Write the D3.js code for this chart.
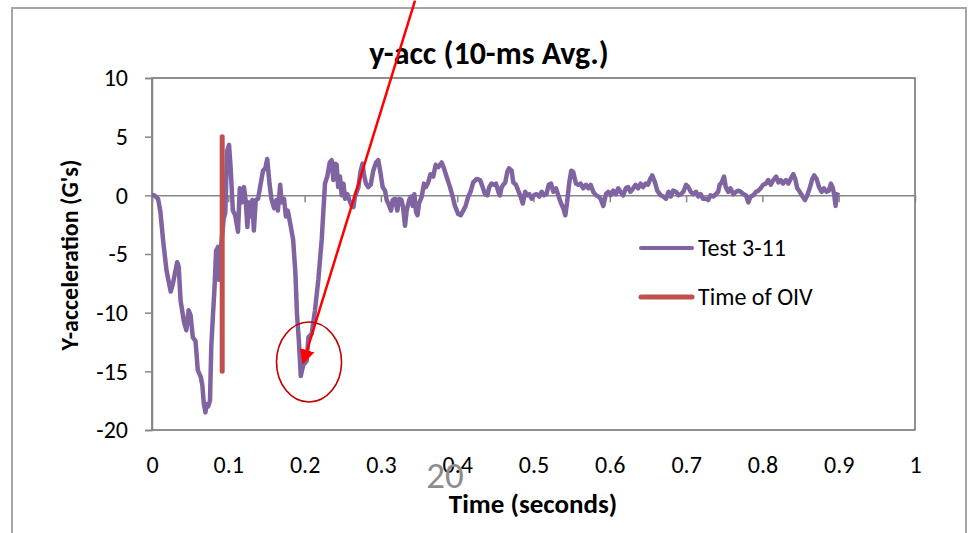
<!DOCTYPE html>
<html>
<head>
<meta charset="utf-8">
<script src="https://cdn.jsdelivr.net/npm/d3@7"></script>
<style>
  body { margin: 0; background: #fff; }
  svg { display: block; }
  text { font-family: Carlito, Calibri, "Liberation Sans Narrow", "Liberation Sans", sans-serif; }
</style>
</head>
<body>
<div id="chart"></div>
<script>
// time (s) and y-acceleration (G's)
const times = [
  0.000, 0.003, 0.008, 0.011, 0.0145, 0.019, 0.0245, 0.0275, 0.0305, 0.033,
  0.035, 0.0375, 0.042, 0.045, 0.048, 0.0505, 0.0535, 0.057, 0.060, 0.064,
  0.066, 0.068, 0.070, 0.0715, 0.0735, 0.076, 0.0777, 0.080, 0.082, 0.084,
  0.0865, 0.0875, 0.091, 0.094, 0.096, 0.0985, 0.101, 0.103, 0.106, 0.109,
  0.1127, 0.115, 0.118, 0.1205, 0.123, 0.125, 0.127, 0.129, 0.1315, 0.1335,
  0.136, 0.139, 0.1425, 0.1455, 0.1485, 0.151, 0.154, 0.1565, 0.160, 0.163,
  0.165, 0.168, 0.170, 0.173, 0.1755, 0.178, 0.182, 0.185, 0.188, 0.190,
  0.1925, 0.195, 0.198, 0.2027, 0.205, 0.2093, 0.2136, 0.218, 0.2224, 0.2267,
  0.2297, 0.233, 0.2355, 0.2377, 0.240, 0.242, 0.244, 0.2464, 0.2486, 0.251,
  0.253, 0.256, 0.2586, 0.2617, 0.264, 0.266, 0.2705, 0.2735, 0.276, 0.2777,
  0.2804, 0.2835, 0.2866, 0.290, 0.2936, 0.2966, 0.299, 0.3023, 0.3054, 0.3076,
  0.311, 0.3132, 0.3155, 0.3185, 0.3215, 0.324, 0.327, 0.329, 0.3316, 0.3338,
  0.337, 0.3395, 0.3417, 0.3438, 0.346, 0.348, 0.350, 0.3535, 0.3565, 0.359,
  0.362, 0.365, 0.3686, 0.3718, 0.3752, 0.3797, 0.3827, 0.386, 0.3906, 0.394,
  0.397, 0.4014, 0.4045, 0.408, 0.411, 0.4145, 0.4175, 0.421, 0.4256, 0.430,
  0.4334, 0.4364, 0.4395, 0.442, 0.445, 0.448, 0.4508, 0.454, 0.456, 0.4583,
  0.4604, 0.463, 0.4657, 0.468, 0.4714, 0.4735, 0.477, 0.480, 0.483, 0.486,
  0.489, 0.492, 0.4945, 0.4976, 0.5007, 0.504, 0.5076, 0.5107, 0.5138, 0.517,
  0.520, 0.523, 0.526, 0.5295, 0.5325, 0.5356, 0.539, 0.5417, 0.544, 0.5469,
  0.5495, 0.552, 0.5556, 0.5587, 0.5618, 0.565, 0.5688, 0.5718, 0.575, 0.5783,
  0.582, 0.585, 0.588, 0.5914, 0.595, 0.598, 0.601, 0.6045, 0.608, 0.611,
  0.614, 0.6175, 0.621, 0.624, 0.627, 0.6306, 0.6338, 0.637, 0.6404, 0.6436,
  0.647, 0.650, 0.653, 0.6556, 0.6592, 0.6622, 0.6667, 0.670, 0.6737, 0.677,
  0.680, 0.683, 0.6868, 0.690, 0.693, 0.6963, 0.700, 0.703, 0.706, 0.7094,
  0.713, 0.716, 0.719, 0.7223, 0.726, 0.729, 0.732, 0.7356, 0.739, 0.742,
  0.744, 0.7467, 0.7497, 0.752, 0.7553, 0.758, 0.762, 0.7654, 0.7684, 0.7715,
  0.775, 0.7785, 0.7815, 0.7846, 0.788, 0.7916, 0.7946, 0.7977, 0.801, 0.8047,
  0.8077, 0.811, 0.8143, 0.818, 0.821, 0.824, 0.827, 0.831, 0.834, 0.837,
  0.8405, 0.843, 0.8457, 0.849, 0.8527, 0.8558, 0.8588, 0.8624, 0.8654, 0.868,
  0.871, 0.8742, 0.8777, 0.8807, 0.884, 0.887, 0.8898, 0.892, 0.894, 0.896,
  0.8975, 0.9006
];
const yAcc = [
  0.0, 0.0, -0.3, -1.4, -3.8, -6.4, -8.2, -7.5, -6.5, -5.7,
  -6.1, -9.0, -10.8, -11.5, -9.8, -10.2, -12.1, -12.4, -14.9, -15.5,
  -16.2, -17.8, -18.5, -17.8, -18.0, -17.5, -12.9, -10.1, -7.8, -4.7,
  -4.4, -7.2, -4.0, -2.0, -1.5, 3.8, 4.3, 2.4, -1.3, -1.7,
  -3.1, 0.6, -0.6, 0.7, -0.6, -2.7, -0.6, -1.8, -0.4, -3.0,
  -0.4, -0.3, 1.0, 2.1, 2.3, 3.1, 1.0, -0.3, -1.1, -0.4,
  -1.3, 0.9, -0.6, -0.3, -1.8, -1.3, -2.7, -3.8, -6.7, -10.1,
  -12.4, -15.4, -14.5, -14.1, -12.1, -11.8, -9.8, -7.2, -3.8, 1.0,
  1.6, 2.8, 3.0, 1.3, 2.7, 2.6, 0.7, 1.6, 0.0, 1.0,
  -0.3, 0.1, -0.4, -0.9, -1.0, -0.1, 0.7, 2.1, 2.7, 1.8,
  1.0, 0.7, 0.9, 2.1, 2.8, 3.0, 2.1, 0.7, 0.4, -0.4,
  -0.9, -1.3, -0.4, -0.3, -1.3, -0.3, -0.4, -1.0, -2.6, -1.3,
  -0.4, -0.1, -0.9, 0.1, -1.4, -1.7, -0.7, -0.1, 1.0, 0.7,
  1.1, 1.8, 1.6, 2.6, 2.4, 2.8, 2.3, 1.6, 0.7, -0.1,
  -0.9, -1.6, -1.7, -1.3, -0.9, -0.1, 0.3, 1.1, 1.4, 1.3,
  0.7, 0.1, 0.0, 0.7, 1.0, 0.9, 1.0, 0.3, 0.0, 0.7,
  0.9, 1.1, 2.0, 2.3, 2.1, 1.1, 0.9, 0.4, -0.1, -0.7,
  0.3, 0.0, 0.1, -0.3, 0.0, 0.1, -0.1, 0.3, 0.0, 0.1,
  0.9, 1.0, 0.3, 0.6, 0.0, -0.6, -1.1, -1.7, -0.6, 1.1,
  2.1, 2.0, 1.0, 0.9, 1.0, 0.6, 0.9, 0.6, 0.9, 0.3,
  0.0, -0.1, -0.3, -0.9, 0.1, 0.3, 0.0, 0.4, 0.1, 0.6,
  0.3, 0.0, 0.6, 0.7, 0.3, 0.6, 0.9, 0.6, 1.0, 0.7,
  1.0, 0.9, 1.4, 1.7, 1.1, 0.4, 0.0, -0.1, -0.3, 0.3,
  -0.1, 0.4, 0.3, 0.0, 0.1, 0.3, 0.9, 0.7, 0.3, 0.1,
  0.3, -0.1, 0.1, -0.3, -0.3, -0.4, 0.0, -0.1, 0.1, 0.3,
  0.9, 1.1, 1.6, 0.7, 0.3, 0.6, 0.1, 0.3, 0.4, 0.3,
  0.1, 0.0, -0.6, -0.1, 0.0, 0.3, 0.4, 0.6, 0.9, 1.0,
  1.3, 0.9, 1.3, 1.6, 1.1, 1.3, 1.0, 1.3, 1.0, 1.4,
  1.8, 1.4, 0.6, 0.3, -0.1, -0.4, 0.0, 0.7, 1.4, 1.7,
  1.4, 0.7, 0.3, 0.6, 0.3, 0.4, 1.0, 0.7, 0.1, -0.9,
  0.1, 0.0
];
// Time of OIV marker
const oivTime = [0.092, 0.092];
const oivAcc = [5, -15];

const xTicks = [0, 0.1, 0.2, 0.3, 0.4, 0.5, 0.6, 0.7, 0.8, 0.9, 1];
const yTicks = [-20, -15, -10, -5, 0, 5, 10];
const seriesNames = ["Test 3-11", "Time of OIV"];

const purple = "#8064A2", brick = "#C0504D", axisGray = "#868686";

let width = 973, height = 533;
let svg = d3.select("#chart").append("svg")
    .attr("width", width)
    .attr("height", height);

let x = d3.scaleLinear().domain([0, 1]).range([152, 915]);
let y = d3.scaleLinear().domain([-20, 10]).range([430, 78]);

// outer chart frame
svg.append("path")
    .attr("d", "M12,540 L12,8 L966,8 L966,540")
    .attr("fill", "none")
    .attr("stroke", "#a6a6a6")
    .attr("stroke-width", 2);

// plot area border
svg.append("rect")
    .attr("x", x(0)).attr("y", y(10))
    .attr("width", x(1) - x(0)).attr("height", y(-20) - y(10))
    .attr("fill", "none")
    .attr("stroke", "#6b6b6b")
    .attr("stroke-width", 1.5);

// y axis
let yAxis = svg.append("g")
    .attr("transform", `translate(${x(0)},0)`)
    .call(d3.axisLeft(y).tickValues(yTicks).tickSize(7).tickPadding(17).tickFormat(d => String(d)));
yAxis.select(".domain").attr("stroke", axisGray).attr("stroke-width", 1.5);
yAxis.selectAll(".tick line").attr("stroke", axisGray).attr("stroke-width", 1.5);
yAxis.selectAll(".tick text")
    .attr("font-size", 24)
    .attr("fill", "#000")
    .attr("font-family", null);

// x axis sits on y = 0, labels at the bottom of the plot
let xAxis = svg.append("g")
    .attr("transform", `translate(0,${y(0)})`)
    .call(d3.axisBottom(x).tickValues(xTicks).tickSize(7).tickSizeOuter(0).tickFormat(d => String(d)));
xAxis.select(".domain").attr("stroke", axisGray).attr("stroke-width", 1.5);
xAxis.selectAll(".tick line").attr("stroke", axisGray).attr("stroke-width", 1.5);
xAxis.selectAll(".tick text")
    .attr("font-size", 24)
    .attr("fill", "#000")
    .attr("font-family", null)
    .attr("dy", null)
    .attr("y", y(-20) - y(0) + 43);

// page number overlay
svg.append("text")
    .attr("x", 445).attr("y", 488)
    .attr("text-anchor", "middle")
    .attr("font-size", 37)
    .attr("fill", "#8c8c8c")
    .text("20");

// series
let line = d3.line()
    .x((d, i) => x(times[i]))
    .y(d => y(d));

svg.append("path")
    .datum(yAcc)
    .attr("d", line)
    .attr("fill", "none")
    .attr("stroke", purple)
    .attr("stroke-width", 4.5)
    .attr("stroke-linejoin", "round");

svg.append("line")
    .attr("x1", x(oivTime[0])).attr("y1", y(oivAcc[0]))
    .attr("x2", x(oivTime[1])).attr("y2", y(oivAcc[1]))
    .attr("stroke", brick)
    .attr("stroke-width", 5)
    .attr("stroke-linecap", "round");

// titles
svg.append("text")
    .attr("x", 489).attr("y", 64)
    .attr("text-anchor", "middle")
    .attr("font-size", 32)
    .attr("font-weight", "bold")
    .text("y-acc (10-ms Avg.)");

svg.append("text")
    .attr("x", 533).attr("y", 513)
    .attr("text-anchor", "middle")
    .attr("font-size", 27)
    .attr("font-weight", "bold")
    .text("Time (seconds)");

svg.append("text")
    .attr("transform", "translate(78,255) rotate(-90)")
    .attr("text-anchor", "middle")
    .attr("font-size", 24)
    .attr("font-weight", "bold")
    .text("Y-acceleration (G's)");

// legend
let legend = svg.append("g");
[purple, brick].forEach((c, i) => {
    let ly = 248 + i * 49;
    legend.append("line")
        .attr("x1", 641).attr("x2", 692)
        .attr("y1", ly).attr("y2", ly)
        .attr("stroke", c)
        .attr("stroke-width", i === 0 ? 4 : 5)
        .attr("stroke-linecap", "round");
    legend.append("text")
        .attr("x", 698).attr("y", ly + 8)
        .attr("font-size", 24)
        .text(seriesNames[i]);
});

// annotation: circle around the second trough and arrow pointing into it
let defs = svg.append("defs");
defs.append("marker")
    .attr("id", "arrow")
    .attr("viewBox", "0 0 10 10")
    .attr("refX", 9).attr("refY", 5)
    .attr("markerWidth", 6).attr("markerHeight", 6)
    .attr("markerUnits", "strokeWidth")
    .attr("orient", "auto")
    .append("path")
    .attr("d", "M0,0 L10,5 L0,10 z")
    .attr("fill", "#ff0000");

svg.append("ellipse")
    .attr("cx", x(0.2058)).attr("cy", y(-14.2))
    .attr("rx", 32.5).attr("ry", 40)
    .attr("fill", "none")
    .attr("stroke", "#c00000")
    .attr("stroke-width", 1.6);

svg.append("line")
    .attr("x1", x(0.3447)).attr("y1", y(16.6))
    .attr("x2", x(0.198)).attr("y2", y(-14.3))
    .attr("stroke", "#ff0000")
    .attr("stroke-width", 2.5)
    .attr("marker-end", "url(#arrow)");
</script>
</body>
</html>
